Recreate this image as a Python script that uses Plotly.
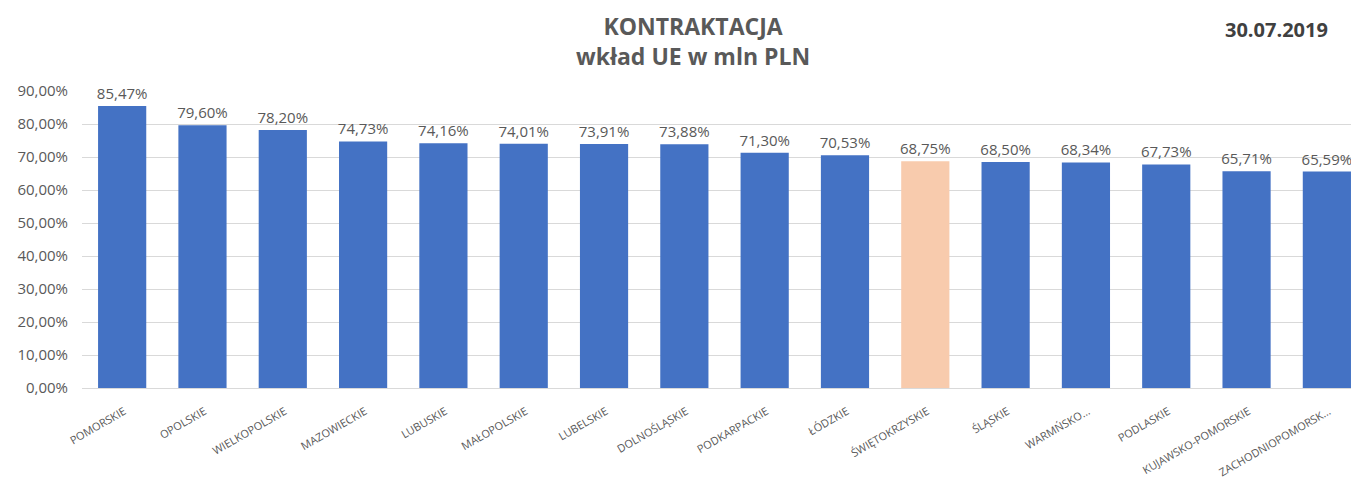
import plotly.graph_objects as go

regions = ["POMORSKIE", "OPOLSKIE", "WIELKOPOLSKIE", "MAZOWIECKIE", "LUBUSKIE",
           "MAŁOPOLSKIE", "LUBELSKIE", "DOLNOŚLĄSKIE", "PODKARPACKIE", "ŁÓDZKIE",
           "ŚWIĘTOKRZYSKIE", "ŚLĄSKIE", "WARMŃSKO...", "PODLASKIE",
           "KUJAWSKO-POMORSKIE", "ZACHODNIOPOMORSK..."]
values = [0.8547, 0.7960, 0.7820, 0.7473, 0.7416, 0.7401, 0.7391, 0.7388,
          0.7130, 0.7053, 0.6875, 0.6850, 0.6834, 0.6773, 0.6571, 0.6559]
highlight = "ŚWIĘTOKRZYSKIE"
y_ticks = [0, 0.1, 0.2, 0.3, 0.4, 0.5, 0.6, 0.7, 0.8, 0.9]

colors = ["#F8CBAD" if r == highlight else "#4472C4" for r in regions]

# page body has an 8px margin: figure coordinates = page coordinates - 8
OFF = 8
W, H = 1359 - OFF, 484 - OFF
pl, pr, pt, pb = 82 - OFF, 0, 91 - OFF, 96
pw, ph = W - pl - pr, H - pt - pb

fig = go.Figure(go.Bar(
    x=list(range(len(regions))), y=values,
    marker=dict(color=colors, line=dict(width=0)),
    width=0.6,
    texttemplate="%{y:.2%}", textposition="outside", cliponaxis=False,
    constraintext="none",
    textfont=dict(family="Open Sans", size=15, color="#595959"),
))

fig.update_layout(
    width=W, height=H,
    margin=dict(l=pl, r=pr, t=pt, b=pb),
    paper_bgcolor="white", plot_bgcolor="white",
    separators=", ",
    showlegend=False,
    font=dict(family="Open Sans", color="#595959"),
    annotations=[
        dict(text="<b>KONTRAKTACJA</b><br><b>wkład UE w mln PLN</b>",
             x=(693 - OFF - pl) / pw, y=(H - pb - (41 - OFF)) / ph,
             xref="paper", yref="paper",
             showarrow=False, xanchor="center", yanchor="middle",
             font=dict(family="Open Sans", size=23, color="#595959")),
        dict(text="<b>30.07.2019</b>",
             x=(1276 - OFF - pl) / pw, y=(H - pb - (29 - OFF)) / ph,
             xref="paper", yref="paper",
             showarrow=False, xanchor="center", yanchor="middle",
             font=dict(family="Open Sans", size=20, color="#404040")),
    ],
)

fig.update_xaxes(
    range=[-0.5, 15.4], automargin=False,
    tickmode="array", tickvals=list(range(len(regions))), ticktext=regions,
    tickangle=-30, tickfont=dict(family="Open Sans", size=11, color="#595959"),
    ticklabelshift=2, ticklabelstandoff=12,
    showline=True, linecolor="#D9D9D9", linewidth=1, showgrid=False, ticks="",
)
fig.update_yaxes(
    range=[0, 0.9], automargin=False, tickvals=y_ticks, tickformat=".2%",
    tickfont=dict(family="Open Sans", size=15, color="#595959"),
    showgrid=True, gridcolor="#D9D9D9", gridwidth=1, zeroline=False,
    ticks="outside", ticklen=10, tickcolor="white",
)

fig.write_html("out.html")
